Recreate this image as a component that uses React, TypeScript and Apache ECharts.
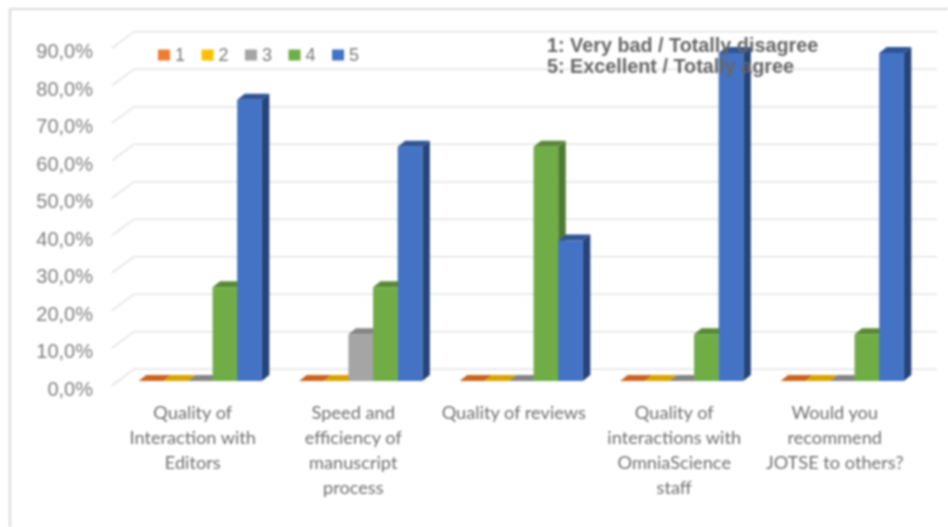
import React, { useEffect, useRef } from "react";
import * as echarts from "echarts";

const categories = [
  "Quality of\nInteraction with\nEditors",
  "Speed and\nefficiency of\nmanuscript\nprocess",
  "Quality of reviews",
  "Quality of\ninteractions with\nOmniaScience\nstaff",
  "Would you\nrecommend\nJOTSE to others?",
];
const ratings = ["1", "2", "3", "4", "5"];
const rating1 = [0, 0, 0, 0, 0];
const rating2 = [0, 0, 0, 0, 0];
const rating3 = [0, 12.5, 0, 0, 0];
const rating4 = [25, 25, 62.5, 12.5, 12.5];
const rating5 = [75, 62.5, 37.5, 87.5, 87.5];
const yTicks = [0, 10, 20, 30, 40, 50, 60, 70, 80, 90];
const noteLines = ["1: Very bad / Totally disagree", "5: Excellent / Totally agree"];

const seriesValues = [rating1, rating2, rating3, rating4, rating5];
const frontColors = ["#ED7D31", "#FFC000", "#A5A5A5", "#70AD47", "#4472C4"];
const sideColors = ["#A9561F", "#B78A00", "#767676", "#4E7A30", "#264478"];
const topColors = ["#C9651F", "#D9A300", "#858585", "#588A35", "#2F5597"];

const DX = 7.5;
const DY = 6;
const barShare = 0.1535;

export default function App() {
  const ref = useRef<HTMLDivElement>(null);
  useEffect(() => {
    document.body.style.margin = "0";
    const chart = echarts.init(ref.current!, undefined, { renderer: "svg" });

    const gridSeries: any = {
      type: "custom",
      name: "grid",
      silent: true,
      clip: false,
      z: 1,
      data: yTicks.map((v) => [0, v]),
      encode: { x: 0, y: 1 },
      renderItem: (params: any, api: any) => {
        const cs = params.coordSys;
        const y = api.coord([0, api.value(1)])[1];
        return {
          type: "polyline",
          shape: {
            points: [
              [cs.x - 8, y + 4.5],
              [cs.x + 14, y - 11.8],
              [cs.x + cs.width + 14.5, y - 11.8],
            ],
          },
          style: { stroke: "#E4E4E4", lineWidth: 1.6, fill: "none" },
        };
      },
    };

    const barSeries: any[] = ratings.map((name, idx) => ({
      type: "custom",
      name,
      clip: false,
      z: 2 + idx,
      itemStyle: { color: frontColors[idx] },
      data: seriesValues[idx].map((v, i) => [i, v]),
      encode: { x: 0, y: 1 },
      renderItem: (_: any, api: any) => {
        const [cx, top] = api.coord([api.value(0), api.value(1)]);
        const base = api.coord([api.value(0), 0])[1];
        const w = api.size([1, 0])[0] * barShare;
        const x0 = cx + (idx - 2.5) * w;
        const x1 = x0 + w;
        return {
          type: "group",
          children: [
            {
              type: "polygon",
              shape: { points: [[x1, top], [x1 + DX, top - DY], [x1 + DX, base - DY], [x1, base]] },
              style: { fill: sideColors[idx] },
            },
            {
              type: "polygon",
              shape: { points: [[x0, top], [x0 + DX, top - DY], [x1 + DX, top - DY], [x1, top]] },
              style: { fill: topColors[idx] },
            },
            {
              type: "rect",
              shape: { x: x0, y: top, width: w, height: base - top },
              style: { fill: frontColors[idx] },
            },
          ],
        };
      },
    }));

    chart.setOption({
      animation: false,
      backgroundColor: "#FFFFFF",
      grid: { left: 120, top: 43.5, width: 802.5, height: 337.5, containLabel: false },
      legend: {
        data: ratings,
        left: 153,
        top: 41,
        itemWidth: 12,
        itemHeight: 11,
        itemGap: 16.5,
        icon: "rect",
        textStyle: {
          color: "#7A7A7A",
          fontFamily: "Liberation Sans",
          fontSize: 18,
          padding: [3, 0, 0, 0],
        },
      },
      xAxis: {
        type: "category",
        data: categories,
        axisLine: { show: false },
        axisTick: { show: false },
        splitLine: { show: false },
        axisLabel: {
          interval: 0,
          margin: 18,
          color: "#6F6F6F",
          fontFamily: "Lato",
          fontSize: 18.2,
          lineHeight: 25,
          align: "center",
          padding: [0, 15, 0, 0],
        },
      },
      yAxis: {
        type: "value",
        min: 0,
        max: 90,
        interval: 10,
        axisLine: { show: false },
        axisTick: { show: false },
        splitLine: { show: false },
        axisLabel: {
          margin: 27,
          color: "#7F7F7F",
          fontFamily: "Liberation Sans",
          fontSize: 20,
          lineHeight: 15,
          verticalAlign: "top",
          formatter: (v: number) => v.toFixed(1).replace(".", ",") + "%",
        },
      },
      series: [gridSeries, ...barSeries],
      graphic: [
        {
          type: "polyline",
          silent: true,
          shape: { points: [[10, 527], [10, 9], [948, 9]] },
          style: { stroke: "#D9D9D9", lineWidth: 2, fill: "none" },
          z: 0,
        },
        ...noteLines.map((t, i) => ({
          type: "text",
          silent: true,
          x: 547,
          y: 35 + i * 21,
          z: 20,
          style: {
            text: t,
            fill: "#666666",
            font: "bold 19.8px 'Liberation Sans'",
          },
        })),
      ],
    });
    return () => chart.dispose();
  }, []);
  return (
    <div
      ref={ref}
      style={{ width: 948, height: 527, position: "absolute", left: 0, top: 0, filter: "blur(0.8px)" }}
    />
  );
}
